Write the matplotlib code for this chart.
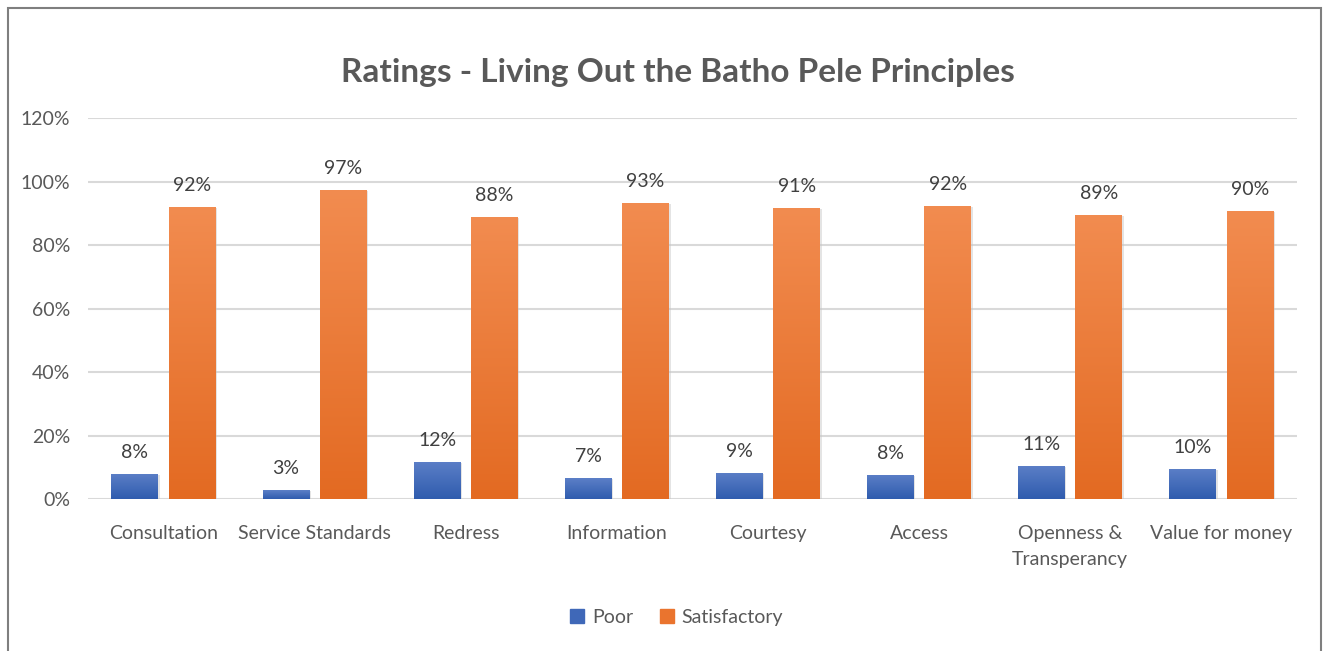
import numpy as np
import matplotlib
matplotlib.use("Agg")
import matplotlib.pyplot as plt
from matplotlib.patches import Rectangle, Patch
from matplotlib.colors import LinearSegmentedColormap

plt.rcParams['font.family'] = ['Lato', 'DejaVu Sans']

# data
categories = ["Consultation", "Service Standards", "Redress", "Information",
              "Courtesy", "Access", "Openness &\nTransperancy", "Value for money"]
poor = [7.9, 2.8, 11.7, 6.6, 8.2, 7.6, 10.4, 9.5]
satisfactory = [92.1, 97.4, 88.9, 93.4, 91.8, 92.4, 89.6, 90.8]
poor_labels = ["8%", "3%", "12%", "7%", "9%", "8%", "11%", "10%"]
sat_labels = ["92%", "97%", "88%", "93%", "91%", "92%", "89%", "90%"]
yticks = [0, 20, 40, 60, 80, 100, 120]

blue_cm = LinearSegmentedColormap.from_list("b", ["#2F5CAE", "#5C7FC7"])
orange_cm = LinearSegmentedColormap.from_list("o", ["#E36A22", "#F28C50"])

fig = plt.figure(figsize=(13.27, 6.51), dpi=100)
ax = fig.add_axes([0.0663, 0.2335, 0.911, 0.585])

x = np.arange(len(categories))
w = 0.31
off = 0.19

def grad_bars(xs, vals, cm):
    bars = ax.bar(xs, vals, w, color="none", edgecolor="none", zorder=3)
    for b in bars:
        x0 = b.get_x()
        h = b.get_height()
        # soft shadow
        ax.add_patch(Rectangle((x0 + 0.01, -0.5), w, h + 0.2, color="#c4c4c4",
                               alpha=0.45, zorder=2, lw=0))
        g = np.linspace(0, 1, 256).reshape(-1, 1)
        im = ax.imshow(g, extent=[x0, x0 + w, 0, h], origin="lower", cmap=cm,
                       vmin=0, vmax=1, aspect="auto", zorder=3)
        im.set_clip_path(b)
    return bars

grad_bars(x - off, poor, blue_cm)
grad_bars(x + off, satisfactory, orange_cm)

for i in range(len(categories)):
    ax.text(x[i] - off, poor[i] + 4, poor_labels[i], ha="center", va="bottom",
            fontsize=14, color="#404040")
    ax.text(x[i] + off, satisfactory[i] + 4, sat_labels[i], ha="center", va="bottom",
            fontsize=14, color="#404040")

ax.set_xlim(-0.5, len(categories) - 0.5)
ax.set_ylim(0, 120)
ax.set_yticks(yticks)
ax.set_yticklabels([f"{t}%" for t in yticks], fontsize=14, color="#595959")
ax.set_xticks(x)
ax.set_xticklabels(categories, fontsize=14, color="#595959", linespacing=1.65)
ax.tick_params(length=0, pad=13)
ax.tick_params(axis="x", pad=19)
ax.grid(axis="y", color="#d9d9d9", lw=1.5, zorder=0)
ax.set_axisbelow(True)
for s in ax.spines.values():
    s.set_visible(False)

fig.text(0.511, 0.888, "Ratings - Living Out the Batho Pele Principles", ha="center",
         va="center", fontsize=24, fontweight="bold", color="#595959")

handles = [Patch(color="#3F68B8", label="Poor"), Patch(color="#EA742E", label="Satisfactory")]
fig.legend(handles=handles, loc="center", bbox_to_anchor=(0.51, 0.052), ncol=2,
           frameon=False, fontsize=14, handlelength=0.7, handleheight=0.7,
           handletextpad=0.4, columnspacing=1.4, labelcolor="#595959")

fig.patches.append(Rectangle((8 / 1327, -0.02), 1313 / 1327, 1 - 8 / 651 + 0.02,
                             transform=fig.transFigure, fill=False,
                             edgecolor="#7f7f7f", lw=1.5, zorder=10))

fig.savefig("out.png", dpi=100)
